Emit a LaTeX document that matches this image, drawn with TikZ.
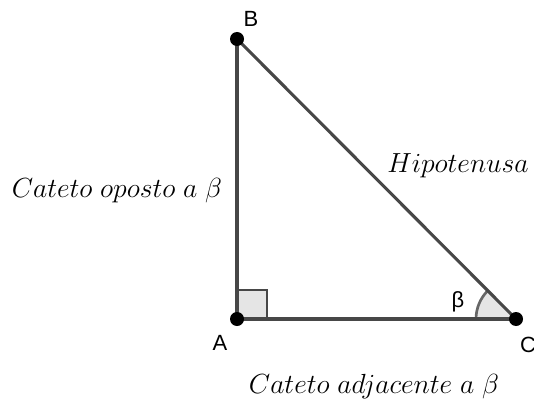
\documentclass[tikz,border=0pt]{standalone}
\usepackage{fontspec}
\newfontfamily\lab{Liberation Sans}
\begin{document}
\begin{tikzpicture}[x=0.75pt,y=-0.75pt,
  seg/.style={draw=black!72,line width=2.3pt},
  dot/.style={circle,fill=black,inner sep=0pt,minimum size=10.5pt},
  ptlab/.style={font=\lab\fontsize{16.5}{19}\selectfont,inner sep=0pt},
  mlab/.style={font=\fontsize{19.4}{23}\selectfont,inner sep=0pt}]
\useasboundingbox (0,0) rectangle (534,406);
\coordinate (A) at (237,319);
\coordinate (B) at (237,39);
\coordinate (C) at (516,319);
% angle at C
\fill[black!10] (C) -- ++(180:40) arc[start angle=180,end angle=225.1,radius=40] -- cycle;
\draw[black!60,line width=2pt] (C) ++(180:40) arc[start angle=180,end angle=225.1,radius=40];
% right angle
\filldraw[fill=black!10,draw=black!72,line width=2pt] (A) rectangle (267,290);
\draw[seg] (A) -- (B);
\draw[seg] (B) -- (C);
\draw[seg] (A) -- (C);
\node[dot] (dA) at (A) {};
\node[dot] (dB) at (B) {};
\node[dot] (dC) at (C) {};
\node[ptlab] (lB) at (251,19) {B};
\node[ptlab] (lA) at (220,343) {A};
\node[ptlab] (lC) at (528,345) {C};
\node[ptlab] (lbeta) at (458,302) {β};
\node[mlab] (hyp) at (458,166) {$Hipotenusa$};
\node[mlab] (op) at (117,191) {$Cateto\ oposto\ a\ \beta$};
\node[mlab] (adj) at (374,387) {$Cateto\ adjacente\ a\ \beta$};
\end{tikzpicture}
\end{document}
